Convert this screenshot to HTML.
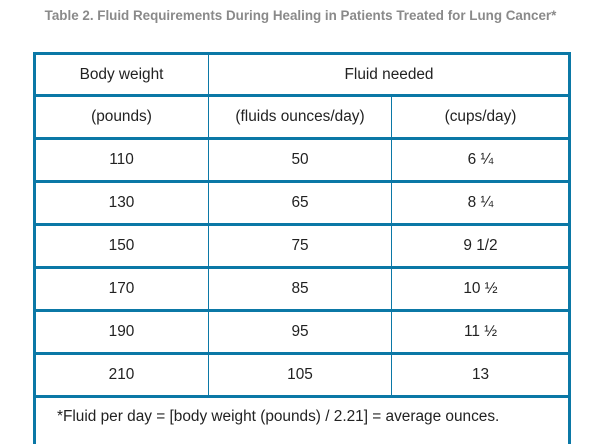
<!DOCTYPE html>
<html><head><meta charset="utf-8"><style>
body{margin:0;width:601px;height:444px;background:#fff;position:relative;overflow:hidden;font-family:"Liberation Sans",sans-serif;color:#222}
.t{position:absolute;left:0;width:601px;top:8px;text-align:center;font-weight:bold;font-size:13.4px;color:#8a8a8a}
.h{position:absolute;left:33px;width:538px;height:3px;background:#0b78a6}
.v{position:absolute;width:3px;background:#0b78a6}
.vi{position:absolute;width:1px;background:#0b78a6}
.c{position:absolute;text-align:center;font-size:15.4px;line-height:20px}
</style></head><body>
<div class="t">Table 2. Fluid Requirements During Healing in Patients Treated for Lung Cancer*</div>
<div id="g"></div>
<script>
const weights=["110","130","150","170","190","210"];
const ounces=["50","65","75","85","95","105"];
const cups=["6 ¼","8 ¼","9 1/2","10 ½","11 ½","13"];
const g=document.getElementById('g');
const lines=[52,94,137,180,223,266,309,352,395];
const cols=[[35,208],[209,391],[392,569]];
function cell(x0,x1,y,txt,name){const d=document.createElement('div');d.className='c';d.style.left=x0+'px';d.style.width=(x1-x0)+'px';d.style.top=(y+10)+'px';d.textContent=txt;


g.appendChild(d);}
lines.forEach((y,i)=>{const d=document.createElement('div');d.className='h';d.style.top=y+'px';


g.appendChild(d);});
[33,568].forEach(x=>{const d=document.createElement('div');d.className='v';d.style.left=x+'px';d.style.top='52px';d.style.height='392px';


g.appendChild(d);});
[[208,52],[391,94]].forEach(([x,t])=>{const d=document.createElement('div');d.className='vi';d.style.left=x+'px';d.style.top=t+'px';d.style.height=(395-t)+'px';


g.appendChild(d);});
cell(35,208,55,'Body weight','header-body-weight');
cell(209,569,55,'Fluid needed','header-fluid-needed');
cell(35,208,97,'(pounds)','header-pounds');
cell(209,391,97,'(fluids ounces/day)','header-ounces');
cell(392,569,97,'(cups/day)','header-cups');
weights.forEach((w,i)=>{const y=lines[i+2]+3;
cell(cols[0][0],cols[0][1],y,w,'weight-cell');
cell(cols[1][0],cols[1][1],y,ounces[i],'ounces-cell');
cell(cols[2][0],cols[2][1],y,cups[i],'cups-cell');});
const f=document.createElement('div');f.className='c';f.style.left='57px';f.style.top='407px';f.style.textAlign='left';f.textContent='*Fluid per day = [body weight (pounds) / 2.21] = average ounces.';


g.appendChild(f);
</script>
</body></html>
